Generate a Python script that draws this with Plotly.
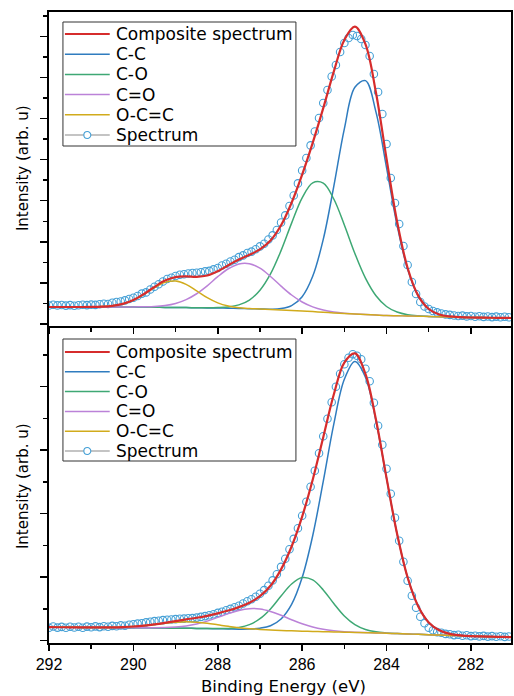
import plotly.graph_objects as go

# ---------------- data ----------------
energy_fit = [292.0, 291.75, 291.5, 291.25, 291.0, 290.75, 290.5, 290.25, 290.0, 289.75,
              289.5, 289.25, 289.0, 288.75, 288.5, 288.25, 288.0, 287.75, 287.5, 287.25,
              287.0, 286.75, 286.5, 286.25, 286.0, 285.75, 285.5, 285.25, 285.0, 284.75,
              284.5, 284.25, 284.0, 283.75, 283.5, 283.25, 283.0, 282.75, 282.5, 282.25,
              282.0, 281.75, 281.5, 281.25, 281.0]

energy_spec = [292.0, 291.9, 291.8, 291.7, 291.6, 291.5, 291.4, 291.3, 291.2, 291.1,
               291.0, 290.9, 290.8, 290.7, 290.6, 290.5, 290.4, 290.3, 290.2, 290.1,
               290.0, 289.9, 289.8, 289.7, 289.6, 289.5, 289.4, 289.3, 289.2, 289.1,
               289.0, 288.9, 288.8, 288.7, 288.6, 288.5, 288.4, 288.3, 288.2, 288.1,
               288.0, 287.9, 287.8, 287.7, 287.6, 287.5, 287.4, 287.3, 287.2, 287.1,
               287.0, 286.9, 286.8, 286.7, 286.6, 286.5, 286.4, 286.3, 286.2, 286.1,
               286.0, 285.9, 285.8, 285.7, 285.6, 285.5, 285.4, 285.3, 285.2, 285.1,
               285.0, 284.9, 284.8, 284.7, 284.6, 284.5, 284.4, 284.3, 284.2, 284.1,
               284.0, 283.9, 283.8, 283.7, 283.6, 283.5, 283.4, 283.3, 283.2, 283.1,
               283.0, 282.9, 282.8, 282.7, 282.6, 282.5, 282.4, 282.3, 282.2, 282.1,
               282.0, 281.9, 281.8, 281.7, 281.6, 281.5, 281.4, 281.3, 281.2, 281.1]

# top panel
top_composite = [17, 17, 17, 17, 17.1, 17.4, 18.2, 20.15, 24.0, 30.0,
                 37.05, 43.4, 46.9, 47.6, 47.2, 48.5, 52.8, 58.75, 64.4, 69.25,
                 74.6, 83.4, 98.7, 121.3, 149.4, 181.2, 215.85, 252.4, 284.0, 297.3,
                 279.8, 231.2, 165.4, 102.55, 56.0, 28.35, 15.0, 9.55, 7.6, 6.85,
                 6.5, 6.4, 6.25, 6.1, 6]
top_cc = [17, 17, 17, 17, 17, 17, 17, 17, 17, 16.9,
          16.75, 16.6, 16.5, 16.4, 16.25, 16.1, 16, 15.75, 15.5, 15.25,
          15, 14.8, 15.4, 18.4, 27.3, 47.7, 84.6, 137.6, 195.2, 236.7,
          243.4, 211.9, 156.4, 98.9, 54.7, 28.0, 14.9, 9.6, 7.6, 6.9,
          6.5, 6.4, 6.25, 6.1, 6]
top_co = [17, 17, 17, 17, 17, 17, 17, 17, 17, 16.9,
          16.75, 16.6, 16.5, 16.4, 16.3, 16.2, 16.4, 17.05, 19.1, 23.95,
          33.8, 50.1, 73.4, 100.9, 126.1, 141.2, 140.85, 125.0, 99.0, 70.5,
          45.9, 28.3, 17.5, 11.95, 9.3, 8.15, 7.6, 7.25, 7, 6.75,
          6.5, 6.4, 6.25, 6.1, 6]
top_c_dbl_o = [17, 17, 17, 17, 17, 17, 17, 17, 17.1, 17.2,
               17.45, 18.4, 20.5, 24.4, 30.25, 38.2, 47.3, 55.25, 60.1, 60.35,
               55.8, 47.5, 37.9, 29.0, 22.0, 17.1, 13.95, 12.0, 10.8, 10.1,
               9.5, 9, 8.5, 8.25, 8, 7.75, 7.5, 7.25, 7, 6.75,
               6.5, 6.4, 6.25, 6.1, 6]
top_occ = [17, 17, 17, 17, 17.1, 17.4, 18.2, 20.1, 23.9, 29.7,
           36.35, 41.6, 42.9, 39.6, 33.15, 26.3, 21.1, 17.95, 16.2, 15.45,
           15, 14.5, 14, 13.5, 13, 12.4, 11.75, 11.1, 10.5, 10,
           9.5, 9, 8.5, 8.25, 8, 7.75, 7.5, 7.25, 7, 6.75,
           6.5, 6.4, 6.25, 6.1, 6]
top_spectrum = [18.5, 19.2, 18.6, 19.0, 18.4, 18.9, 18.3, 18.8, 19.3, 18.9,
                19.4, 19.1, 19.8, 20.3, 20.0, 21.2, 22.0, 22.5, 23.6, 25.0,
                26.3, 28.0, 30.4, 31.6, 34.5, 37.2, 39.8, 42.5, 45.0, 46.3,
                48.0, 49.2, 49.8, 50.5, 51.0, 51.3, 51.8, 52.6, 53.1, 54.6,
                56.0, 58.5, 60.2, 62.5, 64.3, 66.9, 68.6, 71.0, 72.4, 74.8,
                77.6, 80.2, 84.5, 88.6, 94.0, 101.5, 108.6, 118.0, 128.5, 140.6,
                153.5, 166.0, 178.6, 192.5, 206.0, 221.0, 234.0, 247.5, 259.0, 272.0,
                281.0, 286.0, 289.0, 288.0, 285.0, 279.0, 268.0, 250.0, 232.0, 210.0,
                180.0, 146.0, 121.0, 100.0, 78.0, 59.0, 42.0, 30.0, 22.0, 17.5,
                15.0, 13.0, 11.6, 10.5, 9.6, 9.1, 8.5, 8.0, 8.4, 7.6,
                8.0, 7.3, 7.8, 7.1, 7.5, 6.9, 7.4, 6.8, 7.2, 6.7]

# bottom panel
bot_composite = [13.5, 13.45, 13.4, 13.3, 13.25, 13.3, 13.3, 13.65, 14.2, 15.1,
                 16.35, 17.9, 19.6, 21.3, 22.95, 24.9, 27.3, 30.15, 33.6, 38.05,
                 44.5, 54.9, 71.35, 94.2, 124.1, 160.95, 203.5, 246.15, 278.1, 287.25,
                 266.8, 220.95, 162.8, 106.9, 63.15, 34.5, 18.3, 10.4, 6.85, 5.4,
                 4.6, 4.25, 4, 3.75, 3.5]
bot_cc = [13.5, 13.45, 13.4, 13.3, 13.25, 13.2, 13.1, 13.05, 13, 12.9,
          12.75, 12.6, 12.5, 12.4, 12.25, 12.1, 12, 11.75, 11.5, 11.65,
          12.5, 15.0, 21.75, 36.3, 63.1, 104.95, 159.3, 216.55, 261.4, 279.25,
          263.5, 219.85, 162.5, 106.8, 63.15, 34.5, 18.3, 10.4, 6.85, 5.4,
          4.6, 4.25, 4, 3.75, 3.5]
bot_co = [13.5, 13.45, 13.4, 13.3, 13.25, 13.2, 13.1, 13.05, 13, 12.9,
          12.75, 12.6, 12.5, 12.4, 12.25, 12.1, 12.1, 12.25, 13.3, 16.05,
          22.0, 31.8, 44.65, 56.7, 63.1, 60.85, 50.8, 37.15, 24.7, 16.05,
          11.2, 8.85, 7.8, 7.2, 6.75, 6.4, 6, 5.6, 5.25, 4.9,
          4.5, 4.25, 4, 3.75, 3.5]
bot_c_dbl_o = [13.5, 13.45, 13.4, 13.3, 13.25, 13.2, 13.1, 13.05, 13.02, 13.0,
               12.95, 13.1, 13.7, 14.8, 16.75, 19.6, 23.3, 27.05, 30.3, 32.05,
               31.7, 29.2, 25.45, 21.0, 16.9, 13.65, 11.4, 9.95, 9.0, 8.45,
               8.1, 7.75, 7.5, 7.1, 6.75, 6.4, 6, 5.6, 5.25, 4.9,
               4.5, 4.25, 4, 3.75, 3.5]
bot_occ = [13.5, 13.45, 13.4, 13.3, 13.25, 13.3, 13.3, 13.65, 14.2, 15.0,
           16.15, 17.4, 18.4, 18.9, 18.45, 17.4, 15.9, 14.35, 13.0, 12.05,
           11.3, 10.7, 10.25, 9.9, 9.5, 9.25, 9, 8.75, 8.5, 8.25,
           8, 7.75, 7.5, 7.1, 6.75, 6.4, 6, 5.6, 5.25, 4.9,
           4.5, 4.25, 4, 3.75, 3.5]
bot_spectrum = [13.0, 14.2, 13.1, 13.8, 12.9, 14.0, 13.2, 13.9, 13.0, 14.1,
                13.5, 14.3, 13.6, 14.5, 14.0, 14.8, 14.4, 15.3, 15.0, 16.0,
                16.4, 17.1, 17.5, 18.3, 18.9, 19.6, 20.0, 20.6, 20.9, 21.2,
                21.6, 21.9, 22.1, 22.4, 22.6, 23.1, 23.8, 24.6, 25.4, 26.5,
                27.8, 29.0, 30.4, 31.8, 33.5, 35.0, 37.2, 39.4, 41.5, 44.0,
                47.0, 50.6, 55.0, 60.3, 66.5, 73.8, 82.0, 91.5, 101.8, 112.5,
                125.0, 139.0, 154.0, 170.0, 187.5, 204.5, 222.0, 238.5, 254.0, 267.0,
                276.5, 283.0, 286.5, 285.0, 281.5, 272.0, 259.5, 238.0, 215.0, 196.0,
                172.0, 147.0, 123.0, 100.0, 79.0, 60.0, 45.0, 33.0, 24.0, 17.5,
                13.0, 10.5, 8.6, 7.9, 6.8, 6.5, 5.6, 5.9, 5.0, 5.4,
                4.6, 5.0, 4.3, 4.8, 4.1, 4.6, 3.9, 4.4, 3.8, 4.2]

series_names = ["Composite spectrum", "C-C", "C-O", "C=O", "O-C=C"]
spectrum_name = "Spectrum"
series_colors = ["#d62c2c", "#2f7cbf", "#3ea874", "#bb82d8", "#d1ab1c"]
spec_color = "#45a0d6"
spec_line_color = "#8a8a8a"

FONT_TICK = "Liberation Sans, Arial, sans-serif"
FONT_TEXT = "DejaVu Sans, Liberation Sans, sans-serif"

# ---------------- figure geometry (pixels) ----------------
W, H = 514, 696
ML, MR, MT, MB = 49, 1, 12, 53
PW, PH = W - ML - MR, H - MT - MB


def pxx(x):
    return (x - ML) / PW


def pxy(y):
    return (H - MB - y) / PH


fig = go.Figure()

panels = [
    ("x", "y", [top_composite, top_cc, top_co, top_c_dbl_o, top_occ], top_spectrum),
    ("x2", "y2", [bot_composite, bot_cc, bot_co, bot_c_dbl_o, bot_occ], bot_spectrum),
]

for xa, ya, curves, spec in panels:
    fig.add_trace(go.Scatter(
        x=energy_spec, y=spec, mode="markers", xaxis=xa, yaxis=ya, name=spectrum_name,
        marker=dict(symbol="circle-open", size=7.5, color=spec_color, line=dict(width=1.1)),
        hoverinfo="skip"))
    for k in [1, 2, 3, 4, 0]:
        fig.add_trace(go.Scatter(
            x=energy_fit, y=curves[k], mode="lines", xaxis=xa, yaxis=ya,
            name=series_names[k],
            line=dict(color=series_colors[k], width=2.2 if k == 0 else 1.5,
                      shape="spline", smoothing=1.0)))

# ---------------- manual legends (box + samples + text) ----------------
shapes = []
annotations = []
legend_boxes = [
    dict(x0=63, x1=297, y0=22, y1=146, row0=34, step=20.2),
    dict(x0=63, x1=297, y0=339, y1=461, row0=352, step=19.8),
]
labels = series_names + [spectrum_name]
for box in legend_boxes:
    shapes.append(dict(type="rect", xref="paper", yref="paper", layer="above",
                       x0=pxx(box["x0"]), x1=pxx(box["x1"]),
                       y0=pxy(box["y1"]), y1=pxy(box["y0"]),
                       line=dict(color="#333333", width=1), fillcolor="white"))
    for k, lab in enumerate(labels):
        ry = box["row0"] + k * box["step"]
        if k < len(series_names):
            col, lw = series_colors[k], (2.2 if k == 0 else 1.5)
        else:
            col, lw = spec_line_color, 1.2
        shapes.append(dict(type="line", xref="paper", yref="paper", layer="above",
                           x0=pxx(65), x1=pxx(110), y0=pxy(ry), y1=pxy(ry),
                           line=dict(color=col, width=lw)))
        if k == len(series_names):
            shapes.append(dict(type="circle", xref="paper", yref="paper", layer="above",
                               x0=pxx(84), x1=pxx(91), y0=pxy(ry + 3.5), y1=pxy(ry - 3.5),
                               line=dict(color=spec_color, width=1.1), fillcolor="white"))
        annotations.append(dict(text=lab, xref="paper", yref="paper", x=pxx(114), y=pxy(ry),
                                xanchor="left", yanchor="middle", showarrow=False,
                                font=dict(size=17, family=FONT_TEXT, color="black")))

# axis titles
annotations += [
    dict(text="Intensity (arb. u)", xref="paper", yref="paper", x=pxx(23), y=pxy(168),
         textangle=-90, showarrow=False, font=dict(size=15, family=FONT_TEXT, color="black"),
         xanchor="center", yanchor="middle"),
    dict(text="Intensity (arb. u)", xref="paper", yref="paper", x=pxx(23), y=pxy(486),
         textangle=-90, showarrow=False, font=dict(size=15, family=FONT_TEXT, color="black"),
         xanchor="center", yanchor="middle"),
    dict(text="Binding Energy (eV)", xref="paper", yref="paper", x=pxx(284.5), y=pxy(686),
         showarrow=False, font=dict(size=16.5, family=FONT_TEXT, color="black"),
         xanchor="center", yanchor="middle"),
]

axis_common = dict(showline=True, mirror=True, linewidth=2, linecolor="black",
                   showgrid=False, zeroline=False, ticks="outside", tickcolor="black",
                   tickwidth=1.5)
minor_x = dict(dtick=1, ticklen=4, ticks="outside", tickcolor="black", tickwidth=1.5)

fig.update_layout(
    width=W, height=H,
    margin=dict(l=ML, r=MR, t=MT, b=MB),
    paper_bgcolor="white", plot_bgcolor="white",
    font=dict(family=FONT_TICK, color="black"),
    showlegend=False,
    hovermode=False,
    xaxis=dict(domain=[0, 1], anchor="y", range=[292, 281.05], tick0=292, dtick=2,
               ticklen=6, showticklabels=False, minor=minor_x, **axis_common),
    xaxis2=dict(domain=[0, 1], anchor="y2", range=[292, 281.05], tick0=292, dtick=2,
                ticklen=6, showticklabels=True, tickfont=dict(size=16, family=FONT_TICK),
                minor=minor_x, **axis_common),
    yaxis=dict(domain=[pxy(326), 1.0], anchor="x", range=[-2, 312], tick0=0, dtick=41.1,
               ticklen=7, showticklabels=False,
               minor=dict(dtick=20.55, ticklen=4, ticks="outside", tickcolor="black", tickwidth=1.5),
               **axis_common),
    yaxis2=dict(domain=[0.0, pxy(328)], anchor="x2", range=[-2.3, 312.7], tick0=0, dtick=63.5,
                ticklen=7, showticklabels=False,
                minor=dict(dtick=31.75, ticklen=4, ticks="outside", tickcolor="black", tickwidth=1.5),
                **axis_common),
    shapes=shapes,
    annotations=annotations,
)

fig.write_html("out.html",
               config={"displayModeBar": False, "staticPlot": True},
               post_script="document.body.style.margin='0';document.body.style.overflow='hidden';")
